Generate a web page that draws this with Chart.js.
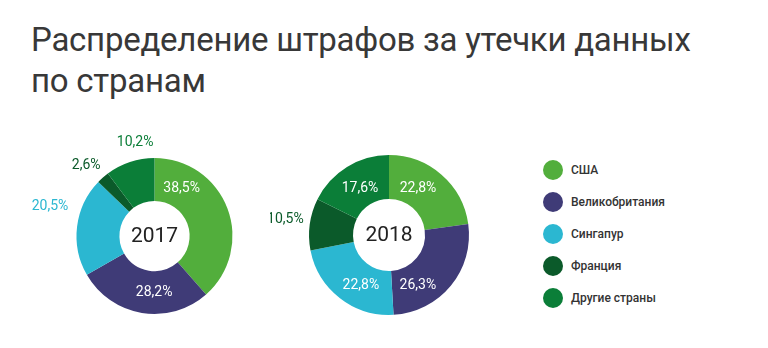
<!DOCTYPE html>
<html lang="ru">
<head>
<meta charset="utf-8">
<script src="https://cdn.jsdelivr.net/npm/chart.js@4"></script>
<style>
    body { margin: 0; width: 768px; height: 348px; background: #fff; font-family: Roboto, sans-serif; position: relative; overflow: hidden; }
    h1 { position: absolute; left: 31px; top: 19px; margin: 0; font-size: 33px; font-weight: 400; line-height: 41px; color: #383838; letter-spacing: -0.25px; }
    canvas { position: absolute; }
    #chart2017 { left: 23px; top: 126px; }
    #chart2018 { left: 270px; top: 125px; }
    #legend { position: absolute; left: 543px; top: 154px; }
    .item { display: flex; align-items: center; height: 32px; font-size: 12px; font-weight: 500; color: #333; }
    .dot { width: 20px; height: 20px; border-radius: 50%; margin-right: 8px; }
</style>
</head>
<body>
<h1>Распределение штрафов за утечки данных<br>по странам</h1>
<canvas id="chart2017" width="260" height="220"></canvas>
<canvas id="chart2018" width="240" height="220"></canvas>
<div id="legend"></div>

<script>
const countries = ['США', 'Великобритания', 'Сингапур', 'Франция', 'Другие страны'];
const colors = ['#52ae3c', '#3f3b77', '#2bb7d1', '#0b5a2a', '#0b7e38'];
const years = ['2017', '2018'];
const values2017 = [38.5, 28.2, 20.5, 2.6, 10.2];
const values2018 = [22.8, 26.3, 22.8, 10.5, 17.6];

// where each percent label sits: degrees moved off the slice middle, and distance as share of radius
const place2017 = [[-39.5, 0.7], [-9, 0.73], [8.5, 1.39], [-2.6, 1.26], [6.6, 1.22]];
const place2018 = [[-9.3, 0.69], [21, 0.73], [-8.6, 0.72], [1, 1.31], [0, 0.69]];

const sliceLabels = {
    id: 'sliceLabels',
    afterDatasetsDraw(chart, args, opts) {
        const ctx = chart.ctx;
        const meta = chart.getDatasetMeta(0);
        const data = chart.data.datasets[0].data;
        ctx.save();
        ctx.font = '14px Roboto';
        ctx.textAlign = 'center';
        ctx.textBaseline = 'middle';
        meta.data.forEach((arc, i) => {
            const p = arc.getProps(['x', 'y', 'startAngle', 'endAngle', 'outerRadius'], true);
            const [shift, factor] = opts.place[i];
            const a = (p.startAngle + p.endAngle) / 2 + shift * Math.PI / 180;
            const r = p.outerRadius * factor;
            ctx.fillStyle = factor > 1 ? colors[i] : '#fff';
            ctx.fillText(data[i].toFixed(1).replace('.', ',') + '%', p.x + Math.cos(a) * r, p.y + Math.sin(a) * r);
        });
        // year in the hole
        const c = meta.data[0];
        ctx.font = '21px Roboto';
        ctx.fillStyle = '#222';
        ctx.fillText(opts.year, c.x, c.y + 1);
        ctx.restore();
    }
};

function makeDonut(id, values, place, year, padding) {
    const ctx = document.getElementById(id).getContext('2d');
    return new Chart(ctx, {
        type: 'doughnut',
        data: {
            labels: countries,
            datasets: [{
                data: values,
                backgroundColor: colors,
                borderWidth: 0
            }]
        },
        options: {
            responsive: false,
            animation: false,
            cutout: '45%',
            layout: { padding: padding },
            plugins: {
                legend: { display: false },
                tooltip: { enabled: false },
                sliceLabels: { place: place, year: year }
            }
        },
        plugins: [sliceLabels]
    });
}

makeDonut('chart2017', values2017, place2017, years[0], { left: 53.5, right: 50.5, top: 32, bottom: 32 });
makeDonut('chart2018', values2018, place2018, years[1], { left: 39, right: 41, top: 30, bottom: 30 });

document.getElementById('legend').innerHTML = countries.map((name, i) => `
    <div class="item"><span class="dot" style="background:${colors[i]}"></span>${name}</div>
`).join('');
</script>
</body>
</html>
